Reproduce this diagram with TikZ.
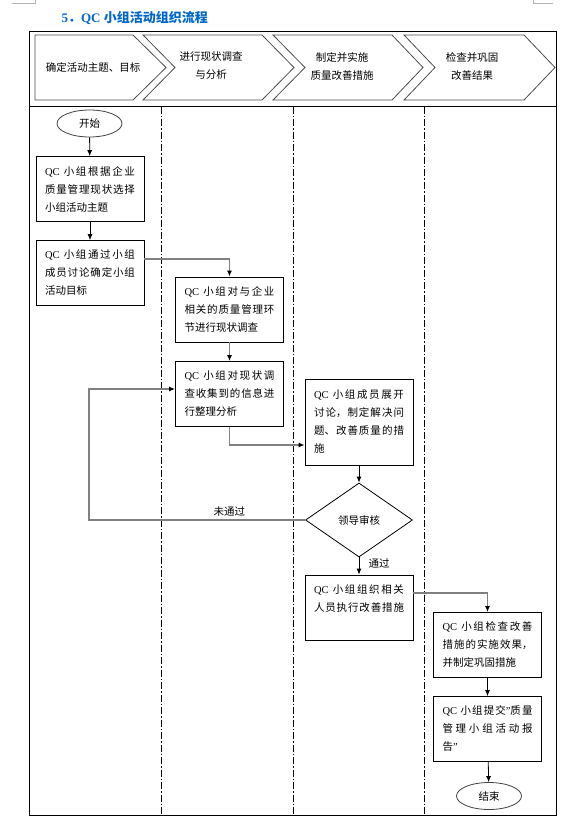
\documentclass[tikz,border=0pt]{standalone}
\usepackage{fontspec}
\setmainfont{Liberation Serif}
\newfontfamily\cjk{Noto Sans CJK SC}
\usetikzlibrary{shapes.geometric,arrows.meta}
\XeTeXlinebreaklocale "zh"
\XeTeXlinebreakskip=0pt plus 1pt
\definecolor{titleblue}{RGB}{0,102,204}
\newcommand{\qcname}{{\rmfamily QC}}
\newcommand{\qcquote}{{\rmfamily ”}}

\begin{document}
\begin{tikzpicture}[
    x=1pt, y=-1pt,
    >={Latex[length=6pt,width=5pt]},
    box/.style={draw, rectangle, line width=0.8pt, minimum width=108pt, minimum height=65pt, text width=90pt, inner xsep=9pt, align=justify, font=\cjk\fontsize{10.5}{18}\selectfont},
    oval/.style={draw=black!75, ellipse, line width=0.8pt, minimum width=65pt, minimum height=27pt, inner sep=0pt, font=\cjk\fontsize{10.5}{12}\selectfont},
    check/.style={draw, diamond, line width=0.8pt, aspect=1.45, minimum width=107pt, minimum height=74pt, inner sep=0pt, font=\cjk\fontsize{10.5}{12}\selectfont},
    link/.style={->, line width=0.8pt},
    graylink/.style={draw=black!50, line width=1.2pt, -{Latex[length=6pt,width=5pt,color=black]}},
    lane/.style={line width=0.8pt, dash pattern=on 7pt off 2pt on 1.5pt off 2pt},
    chevron/.style={draw=black!70, line width=0.8pt},
    steptext/.style={align=center, font=\cjk\fontsize{10.5}{18}\selectfont},
    lbl/.style={font=\cjk\fontsize{10.5}{12}\selectfont}
]
  \useasboundingbox (0,0) rectangle (588,829);

  % crop marks
  \draw[black!30] (12,3.3) -- (35,3.3) -- (35,0);
  \draw[black!30] (533,0) -- (533,3.5) -- (553,3.5);

  % title
  \node[anchor=west, font=\bfseries\fontsize{13}{15}\selectfont, text=titleblue] (title) at (58,18) {5{\cjk．}QC~{\cjk 小组活动组织流程}};

  % frame and lanes
  \draw[line width=1pt] (29,32) rectangle (556,815);
  \draw[line width=1pt] (29,106.7) -- (556,106.7);
  \draw[lane] (161,107) -- (161,815);
  \draw[lane] (293,107) -- (293,815);
  \draw[lane] (424,107) -- (424,815);

  % stages
  \draw[chevron] (35,35) -- (133,35) -- (166,67.5) -- (133,100) -- (35,100) -- cycle;
  \draw[chevron] (143,35) -- (262,35) -- (294,67.5) -- (262,100) -- (143,100) -- (175,67.5) -- cycle;
  \draw[chevron] (273,35) -- (392,35) -- (423,67.5) -- (392,100) -- (273,100) -- (305,67.5) -- cycle;
  \draw[chevron] (404,35) -- (524,35) -- (555,67.5) -- (524,100) -- (404,100) -- (435,67.5) -- cycle;
  \node[steptext] (st1) at (93,67) {确定活动主题、目标};
  \node[steptext] (st2) at (211,66) {进行现状调查\\与分析};
  \node[steptext] (st3) at (342,66) {制定并实施\\质量改善措施};
  \node[steptext] (st4) at (472,66) {检查并巩固\\改善结果};

  % steps
  \node[oval] (start) at (89.5,123.5) {开始};
  \node[box] (b1) at (90,189) {\qcname{} 小组根据企业\linebreak 质量管理现状选择\linebreak 小组活动主题};
  \node[box] (b2) at (90,273) {\qcname{} 小组通过小组\linebreak 成员讨论确定小组\linebreak 活动目标};
  \node[box] (b3) at (229.5,309.5) {\qcname{} 小组对与企业\linebreak 相关的质量管理环\linebreak 节进行现状调查};
  \node[box] (b4) at (229.5,394) {\qcname{} 小组对现状调\linebreak 查收集到的信息进\linebreak 行整理分析};
  \node[box, minimum height=86pt] (b5) at (359,422) {\qcname{} 小组成员展开\linebreak 讨论，制定解决问\linebreak 题、改善质量的措\linebreak 施};
  \node[check] (review) at (359,520) {领导审核};
  \node[box] (b6) at (359,607.5) {\qcname{} 小组组织相关\linebreak 人员执行改善措施\linebreak\mbox{}};
  \node[box] (b7) at (487.5,645) {\qcname{} 小组检查改善\linebreak 措施的实施效果，\linebreak 并制定巩固措施};
  \node[box] (b8) at (487.5,729) {\qcname{} 小组提交\qcquote 质量\linebreak 管理小组活动报\linebreak 告\qcquote};
  \node[oval] (finish) at (489,796) {结束};
  \coordinate (back) at (89,520);

  % connections
  \draw[link] (start) -- (b1);
  \draw[link] (b1) -- (b2);
  \draw[graylink] ([yshift=14pt]b2.east) -| (b3.north);
  \draw[graylink] (b3) -- (b4);
  \draw[graylink] (b4.south) |- ([yshift=-23pt]b5.west);
  \draw[link] (b5) -- (review);
  \draw[graylink] (review.west) -- node[above, lbl, pos=0.35] {未通过} (back) |- ([yshift=5pt]b4.west);
  \draw[link] (review.south) -- node[right, lbl, pos=0.35, xshift=6pt] {通过} (b6.north);
  \draw[graylink] ([yshift=14.5pt]b6.east) -| (b7.north);
  \draw[link] (b7) -- (b8);
  \draw[link] (b8) -- (finish);

\end{tikzpicture}
\end{document}
